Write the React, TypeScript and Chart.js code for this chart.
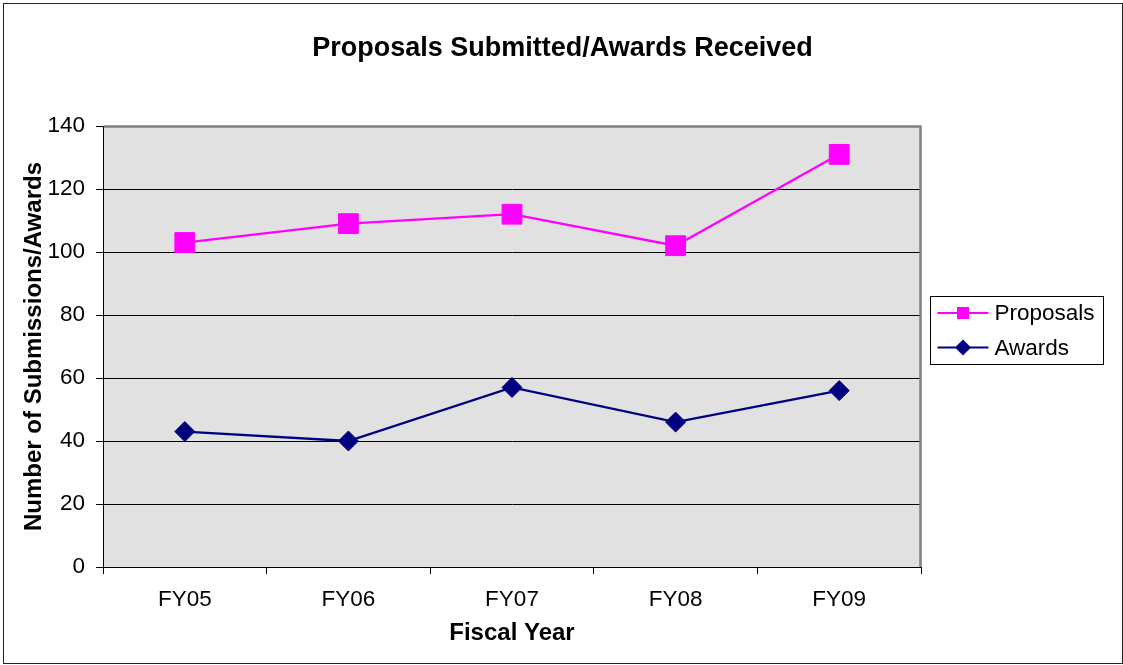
import React, { useEffect, useRef } from "react";
import { Chart, registerables } from "chart.js";

Chart.register(...registerables);

// ---- data ----
const categories = ["FY05", "FY06", "FY07", "FY08", "FY09"];
const proposals = [103, 109, 112, 102, 131];
const awards = [43, 40, 57, 46, 56];
const yTickValues = [0, 20, 40, 60, 80, 100, 120, 140];
const seriesNames = ["Proposals", "Awards"];
const chartTitle = "Proposals Submitted/Awards Received";
const xAxisTitle = "Fiscal Year";
const yAxisTitle = "Number of Submissions/Awards";

const FONT = '"Liberation Sans", Arial, Helvetica, sans-serif';
const W = 1123;
const H = 665;

const framePlugin = {
  id: "frame",
  beforeDraw(chart: any) {
    const { ctx, width, height, chartArea: a } = chart;
    ctx.save();
    ctx.fillStyle = "#ffffff";
    ctx.fillRect(0, 0, width, height);
    ctx.strokeStyle = "#222222";
    ctx.lineWidth = 1;
    ctx.strokeRect(3.5, 3.5, width - 4, height - 5);
    ctx.fillStyle = "#E1E1E1";
    ctx.fillRect(a.left, a.top, a.right - a.left, a.bottom - a.top);
    // chart title, centred on the whole picture
    ctx.fillStyle = "#000000";
    ctx.font = `bold 27px ${FONT}`;
    ctx.textAlign = "center";
    ctx.textBaseline = "middle";
    ctx.fillText(chartTitle, width / 2 + 1, 48.5);
    ctx.restore();
  },
  beforeDatasetsDraw(chart: any) {
    const { ctx, chartArea: a } = chart;
    ctx.save();
    ctx.strokeStyle = "#808080";
    ctx.lineWidth = 2.5;
    ctx.beginPath();
    ctx.moveTo(a.left + 1, a.top + 0.5);
    ctx.lineTo(a.right - 0.5, a.top + 0.5);
    ctx.lineTo(a.right - 0.5, a.bottom);
    ctx.stroke();
    ctx.restore();
  },
};

const legendPlugin = {
  id: "boxLegend",
  afterDraw(chart: any) {
    const { ctx, chartArea: a } = chart;
    const left = a.right + 9.5;
    const top = 296.5;
    const bw = 173;
    const bh = 68;
    ctx.save();
    ctx.fillStyle = "#ffffff";
    ctx.fillRect(left, top, bw, bh);
    ctx.strokeStyle = "#000000";
    ctx.lineWidth = 1;
    ctx.strokeRect(left, top, bw, bh);
    const rows = [313, 347.5];
    chart.data.datasets.forEach((ds: any, i: number) => {
      const y = rows[i];
      const x0 = left + 7;
      const x1 = left + 58;
      const cx = (x0 + x1) / 2;
      ctx.strokeStyle = ds.borderColor;
      ctx.lineWidth = 2.2;
      ctx.beginPath();
      ctx.moveTo(x0, y);
      ctx.lineTo(x1, y);
      ctx.stroke();
      ctx.fillStyle = ds.pointBackgroundColor;
      ctx.beginPath();
      if (ds.pointStyle === "rect") {
        ctx.rect(cx - 6, y - 6, 12, 12);
      } else {
        const r = 8;
        ctx.moveTo(cx, y - r);
        ctx.lineTo(cx + r, y);
        ctx.lineTo(cx, y + r);
        ctx.lineTo(cx - r, y);
        ctx.closePath();
      }
      ctx.fill();
      ctx.fillStyle = "#000000";
      ctx.font = `22.5px ${FONT}`;
      ctx.textAlign = "left";
      ctx.textBaseline = "middle";
      ctx.fillText(ds.label, left + 64, y + 1);
    });
    ctx.restore();
  },
};

export default function App() {
  const canvasRef = useRef<HTMLCanvasElement | null>(null);

  useEffect(() => {
    const canvas = canvasRef.current;
    if (!canvas) return;
    const chart = new Chart(canvas, {
      type: "line",
      data: {
        labels: categories,
        datasets: [
          {
            label: seriesNames[0],
            data: proposals,
            borderColor: "#FF00FF",
            backgroundColor: "#FF00FF",
            pointBackgroundColor: "#FF00FF",
            pointBorderColor: "#FF00FF",
            borderWidth: 2.3,
            pointStyle: "rect",
            pointRadius: 14,
            pointBorderWidth: 1,
            tension: 0,
            fill: false,
          },
          {
            label: seriesNames[1],
            data: awards,
            borderColor: "#000080",
            backgroundColor: "#000080",
            pointBackgroundColor: "#000080",
            pointBorderColor: "#000080",
            borderWidth: 2.3,
            pointStyle: "rectRot",
            pointRadius: 10,
            pointBorderWidth: 1,
            tension: 0,
            fill: false,
          },
        ],
      },
      options: {
        responsive: false,
        animation: false,
        devicePixelRatio: 1,
        layout: { padding: { left: 0, top: 126, right: 202, bottom: 0 } },
        plugins: {
          legend: { display: false },
          tooltip: { enabled: false },
          title: { display: false },
        },
        scales: {
          x: {
            offset: true,
            grid: {
              display: true,
              drawOnChartArea: false,
              drawTicks: true,
              tickLength: 7,
              offset: true,
              color: "#000000",
              tickColor: "#000000",
            },
            border: { display: true, color: "#000000", width: 1 },
            ticks: {
              color: "#000000",
              font: { family: FONT, size: 22.5 },
              padding: 12.5,
              maxRotation: 0,
            },
            title: {
              display: true,
              text: xAxisTitle,
              color: "#000000",
              font: { family: FONT, size: 24, weight: "bold" },
              padding: { top: 0, bottom: 17.6 },
            },
            afterFit: (s: any) => {
              s.height = 98;
            },
          },
          y: {
            min: 0,
            max: 140,
            grid: {
              color: "#000000",
              tickColor: "#000000",
              tickLength: 7,
              lineWidth: 1,
            },
            border: { display: true, color: "#000000", width: 1 },
            ticks: {
              color: "#000000",
              font: { family: FONT, size: 22.5 },
              padding: 11,
              stepSize: 20,
            },
            afterBuildTicks: (s: any) => {
              s.ticks = yTickValues.map((v) => ({ value: v }));
            },
            title: {
              display: true,
              text: yAxisTitle,
              color: "#000000",
              font: { family: FONT, size: 24, weight: "bold" },
              padding: { top: 19.6, bottom: 0 },
            },
            afterFit: (s: any) => {
              s.width = 103;
            },
          },
        },
      },
      plugins: [framePlugin, legendPlugin],
    });
    return () => chart.destroy();
  }, []);

  return (
    <div style={{ position: "absolute", left: 0, top: 0, width: W, height: H }}>
      <canvas ref={canvasRef} width={W} height={H} style={{ display: "block" }} />
    </div>
  );
}
